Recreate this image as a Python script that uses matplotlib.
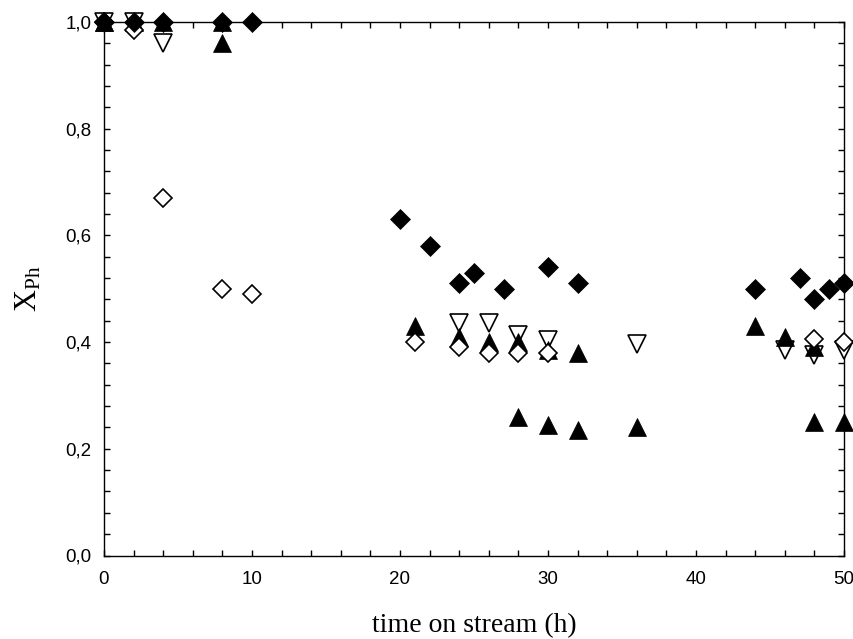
import matplotlib
matplotlib.use("Agg")
import matplotlib.pyplot as plt
from matplotlib.ticker import MultipleLocator, FuncFormatter

# ---- data (time on stream in h, X_Ph) ----
t_fd = [0, 2, 4, 8, 10, 20, 22, 24, 25, 27, 30, 32, 44, 47, 48, 49, 50]
y_fd = [1.0, 1.0, 1.0, 1.0, 1.0, 0.63, 0.58, 0.51, 0.53, 0.50, 0.54, 0.51, 0.50, 0.52, 0.48, 0.50, 0.51]

t_fta = [0, 2, 4, 8, 21, 24, 26, 28, 30, 32, 44, 46, 48]
y_fta = [1.0, 1.0, 1.0, 1.0, 0.43, 0.41, 0.40, 0.40, 0.385, 0.38, 0.43, 0.41, 0.39]

t_ftb = [0, 8, 28, 30, 32, 36, 48, 50]
y_ftb = [1.0, 0.96, 0.26, 0.245, 0.235, 0.24, 0.25, 0.25]

t_odt = [0, 2, 4, 24, 26, 28, 30, 36, 46, 48, 50]
y_odt = [1.0, 1.0, 0.96, 0.435, 0.435, 0.413, 0.404, 0.397, 0.385, 0.375, 0.385]

t_od = [0, 2, 4, 8, 10, 21, 24, 26, 28, 30, 48, 50]
y_od = [1.0, 0.985, 0.67, 0.50, 0.49, 0.40, 0.39, 0.38, 0.38, 0.38, 0.405, 0.40]

x_ticks = [0, 10, 20, 30, 40, 50]
y_ticks = [0.0, 0.2, 0.4, 0.6, 0.8, 1.0]

plt.rcParams['mathtext.fontset'] = 'custom'
plt.rcParams['mathtext.rm'] = 'Liberation Serif'
plt.rcParams['mathtext.it'] = 'Liberation Serif:italic'

fig = plt.figure(figsize=(8.54, 6.39), dpi=100)
ax = fig.add_axes([104/854, 1-555.5/639, 740/854, 533.5/639])

ax.plot(t_odt, y_odt, linestyle='none', marker='v', ms=12.5, mfc='white', mec='black', mew=1.2, zorder=3, clip_on=False)
ax.plot(t_fta, y_fta, linestyle='none', marker='^', ms=13, mfc='black', mec='black', mew=0.5, zorder=4, clip_on=False)
ax.plot(t_ftb, y_ftb, linestyle='none', marker='^', ms=13, mfc='black', mec='black', mew=0.5, zorder=4, clip_on=False)
ax.plot(t_od, y_od, linestyle='none', marker='D', ms=9.5, mfc='white', mec='black', mew=1.2, zorder=5, clip_on=False)
ax.plot(t_fd, y_fd, linestyle='none', marker='D', ms=10, mfc='black', mec='black', mew=0.5, zorder=6, clip_on=False)

ax.set_xlim(0, 50)
ax.set_ylim(0, 1.0)
ax.set_xticks(x_ticks)
ax.set_yticks(y_ticks)
ax.xaxis.set_minor_locator(MultipleLocator(2))
ax.yaxis.set_minor_locator(MultipleLocator(0.04))
ax.yaxis.set_major_formatter(FuncFormatter(lambda v, p: f"{v:.1f}".replace('.', ',')))
ax.xaxis.set_major_formatter(FuncFormatter(lambda v, p: f"{v:.0f}"))

ax.tick_params(which='both', direction='in', top=True, right=True, width=1.0, length=4.5,
               labelsize=13.5)
ax.tick_params(axis='y', pad=9)
ax.tick_params(axis='x', pad=11)
for lab in ax.get_xticklabels() + ax.get_yticklabels():
    lab.set_fontfamily('Liberation Sans')
for s in ax.spines.values():
    s.set_linewidth(1.0)

ax.set_xlabel('time on stream (h)', family='Liberation Serif', fontsize=20, labelpad=18)
ax.set_ylabel(r'$\mathrm{X_{Ph}}$', fontsize=22, labelpad=16)

fig.savefig('out.png', dpi=100)
